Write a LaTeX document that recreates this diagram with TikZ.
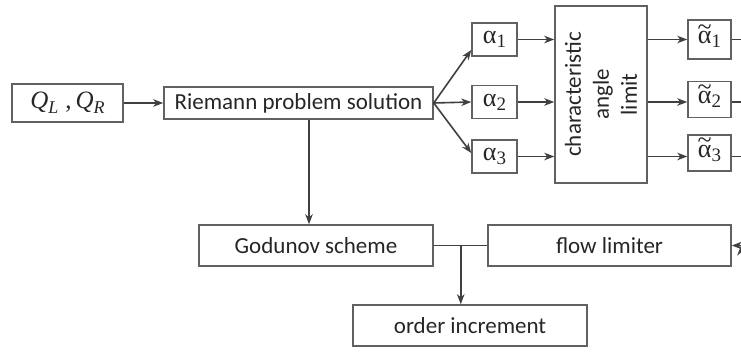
\documentclass[tikz,border=0pt]{standalone}
\usepackage{fontspec}
\setmainfont{Carlito}
\newfontfamily\grk{Liberation Serif}
\usetikzlibrary{positioning, arrows.meta}
\tikzset {
    ->,
    >={Stealth[length=10pt, width=7.5pt, inset=3pt]},
    block/.style={draw=black!62, line width=1.5pt, rectangle, inner sep=0pt,
        text=black!85, font=\fontsize{23}{28}\selectfont},
    sym/.style={block, minimum width=45pt, minimum height=33pt},
    wire/.style={draw=black!75, line width=1.6pt}
}
% greek letters with (optionally tilded) subscripts
\newcommand{\alf}[1]{{\grk\fontsize{26}{26}\selectfont α\raisebox{-4pt}{\fontsize{19}{19}\selectfont #1}}}
\newcommand{\talf}[1]{{\grk\fontsize{26}{26}\selectfont
    \ooalign{α\cr\hidewidth\raisebox{8.5pt}{\char"7E}\hidewidth\cr}%
    \raisebox{-4pt}{\fontsize{19}{19}\selectfont #1}}}
\newcommand{\qsub}[1]{{\grk\itshape\fontsize{25}{25}\selectfont Q\raisebox{-5pt}{\fontsize{18}{18}\selectfont #1}}}

\begin{document}
\begin{tikzpicture}
    \useasboundingbox (0,0) rectangle (741pt,-352pt);
    \coordinate (edgeR) at (741pt,0);

    \node[block, minimum width=111pt, minimum height=38pt] (qlr) at (67.5pt,-103pt) {\qsub{L}\hspace{7pt}{\grk\fontsize{25}{25}\selectfont ,}\hspace{4pt}\qsub{R}};
    \node[block, right of=qlr, node distance=231pt, minimum width=269pt, minimum height=32pt] (rps) {Riemann problem solution};
    \node[sym, right of=rps, node distance=196pt, yshift=1pt] (a2) {\alf{2}};
    \node[sym, above of=a2, node distance=62.5pt] (a1) {\alf{1}};
    \node[sym, below of=a2, node distance=54.5pt] (a3) {\alf{3}};
    \node[block, right of=a2, node distance=106.5pt, yshift=7.5pt, minimum width=92pt, minimum height=177pt,
        label={[rotate=90, align=center, text=black!85, font=\fontsize{23}{28}\selectfont]center:characteristic\\angle\\limit}] (cal) {};
    \node[sym, right of=a1, node distance=215pt, minimum width=43pt, minimum height=39pt] (ta1) {\talf{1}};
    \node[sym, right of=a2, node distance=215pt, yshift=2.5pt, minimum width=43pt, minimum height=36pt] (ta2) {\talf{2}};
    \node[sym, right of=a3, node distance=215pt, yshift=3.5pt, minimum width=43pt, minimum height=36pt] (ta3) {\talf{3}};

    \node[block, below of=rps, node distance=142.5pt, xshift=17.5pt, minimum width=234pt, minimum height=41pt] (gs) {Godunov scheme};
    \node[block, right of=gs, node distance=293.5pt, minimum width=243pt, minimum height=41pt] (fl) {flow limiter};
    \node[block, below of=gs, node distance=80pt, xshift=154pt, minimum width=234pt, minimum height=41pt] (oi) {order increment};

    \coordinate (drop) at ([xshift=10.5pt]rps.south);
    \coordinate (jn) at ([xshift=27pt]gs.east);
    \coordinate (fin) at (gs -| edgeR);

    \draw[wire]
    (qlr) edge (rps)
    (rps.east) edge ([yshift=-10.5pt]a1.west)
    (rps.east) edge (a2.west)
    (rps.east) edge ([yshift=3.5pt]a3.west)
    (a1) edge (a1 -| cal.west)
    (a2) edge (a2 -| cal.west)
    (a3) edge (a3 -| cal.west)
    (a1 -| cal.east) edge (a1 -| ta1.west)
    (a2 -| cal.east) edge (a2 -| ta2.west)
    (a3 -| cal.east) edge (a3 -| ta3.west)
    (a1 -| ta1.east) edge[-] (a1 -| edgeR)
    (a2 -| ta2.east) edge[-] (a2 -| edgeR)
    (a3 -| ta3.east) edge[-] (a3 -| edgeR)
    (drop) edge (drop |- gs.north)
    (gs) edge[-] (fl)
    (jn) edge (jn |- oi.north)
    (fin) edge (fl);
\end{tikzpicture}
\end{document}
